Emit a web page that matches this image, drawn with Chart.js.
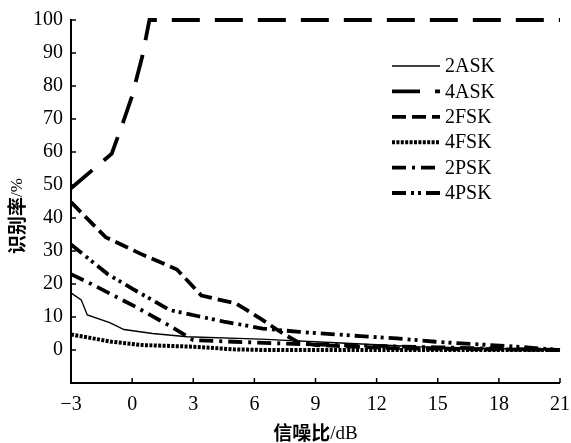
<!DOCTYPE html>
<html>
<head>
<meta charset="utf-8">
<script src="https://cdn.jsdelivr.net/npm/chart.js@4/dist/chart.umd.min.js"></script>
<style>
html,body{margin:0;padding:0;background:#fff;}
#wrap{width:571px;height:443px;position:relative;}
</style>
</head>
<body>
<div id="wrap"><canvas id="c" width="571" height="443"></canvas></div>
<script>
// ---- data ----
const seriesNames = ["2ASK", "4ASK", "2FSK", "4FSK", "2PSK", "4PSK"];
const xTicks = [-3, 0, 3, 6, 9, 12, 15, 18, 21];
const yTicks = [0, 10, 20, 30, 40, 50, 60, 70, 80, 90, 100];

const snr2ASK  = [-3, -2.5, -2.2, -1.1, -0.4, 1, 2.7, 6.3, 10, 14, 21];
const rate2ASK = [17.3, 15.2, 10.6, 8.3, 6.2, 5.0, 4.0, 3.3, 2.2, 1.0, 0];

const snr4ASK  = [-3, -1, -0.5, 0, 0.5, 0.85, 21];
const rate4ASK = [49, 59.5, 68, 77, 89, 100, 100];

const snr2FSK  = [-3, -1.3, 0.4, 2.2, 3.4, 5.1, 6.3, 7.4, 8.1, 9, 13, 21];
const rate2FSK = [44.8, 34.2, 29.2, 24.4, 16.5, 14.1, 9.5, 5.0, 2.5, 1.5, 0.5, 0];

const snr4FSK  = [-3, -1, 0.5, 3, 5, 6.5, 21];
const rate4FSK = [4.7, 2.5, 1.5, 1.0, 0.2, 0, 0];

const snr2PSK  = [-3, -2, 0.2, 1.85, 3, 5, 7.3, 10, 15, 21];
const rate2PSK = [23, 20, 13, 7.3, 3.0, 2.5, 2.0, 1.5, 0.8, 0];

const snr4PSK  = [-3, -1.2, 0, 1.85, 3.2, 4.5, 6.4, 8.2, 11.2, 13, 14.9, 16.7, 18.5, 21];
const rate4PSK = [32, 23, 18.6, 12.1, 10.3, 8.6, 6.5, 5.5, 4.2, 3.5, 2.5, 1.8, 1.2, 0];

const xs = [snr2ASK, snr4ASK, snr2FSK, snr4FSK, snr2PSK, snr4PSK];
const ys = [rate2ASK, rate4ASK, rate2FSK, rate4FSK, rate2PSK, rate4PSK];

const styles = [
  {w: 1.4, dash: []},
  {w: 3.8, dash: [28, 15]},
  {w: 3.8, dash: [14, 6]},
  {w: 4, dash: [3, 1.4]},
  {w: 3.8, dash: [14, 6, 3, 6]},
  {w: 3.8, dash: [14, 5, 3, 4, 3, 5]}
];

const datasets = seriesNames.map((n, i) => ({
  label: n,
  data: xs[i].map((x, j) => ({x: x, y: ys[i][j]})),
  borderColor: '#000',
  backgroundColor: '#000',
  borderWidth: styles[i].w,
  borderDash: styles[i].dash,
  borderCapStyle: 'butt',
  pointRadius: 0,
  tension: 0,
  fill: false,
  clip: 6
}));

const SERIF = "'Liberation Serif', 'Times New Roman', serif";
const CJK = "'Noto Sans CJK SC', sans-serif";

const decor = {
  id: 'decor',
  afterDraw(chart) {
    const ctx = chart.ctx;
    const xs_ = chart.scales.x, ys_ = chart.scales.y;
    const area = chart.chartArea;
    ctx.save();
    // axes lines
    ctx.strokeStyle = '#000';
    ctx.lineWidth = 2;
    ctx.setLineDash([]);
    ctx.beginPath();
    ctx.moveTo(area.left, area.top - 1);
    ctx.lineTo(area.left, area.bottom);
    ctx.lineTo(area.right, area.bottom);
    ctx.stroke();
    // inward ticks
    ctx.lineWidth = 1.5;
    ctx.beginPath();
    yTicks.forEach(v => {
      const p = ys_.getPixelForValue(v);
      ctx.moveTo(area.left, p); ctx.lineTo(area.left + 5, p);
    });
    xTicks.forEach(v => {
      const p = xs_.getPixelForValue(v);
      ctx.moveTo(p, area.bottom); ctx.lineTo(p, area.bottom - 5);
    });
    ctx.stroke();
    // legend
    const lx0 = 392, lx1 = 440, ly0 = 66, dy = 25.4;
    chart.data.datasets.forEach((ds, i) => {
      const y = ly0 + i * dy;
      ctx.strokeStyle = '#000';
      ctx.lineWidth = ds.borderWidth;
      ctx.setLineDash(ds.borderDash);
      ctx.lineCap = 'butt';
      ctx.beginPath();
      ctx.moveTo(lx0, y); ctx.lineTo(lx1, y);
      ctx.stroke();
      ctx.setLineDash([]);
      ctx.fillStyle = '#000';
      ctx.font = '20px ' + SERIF;
      ctx.textAlign = 'left';
      ctx.textBaseline = 'middle';
      ctx.fillText(ds.label, 445, y + 1);
    });
    // x title
    ctx.textBaseline = 'alphabetic';
    const xt1 = '信噪比', xt2 = '/dB';
    ctx.font = 'bold 19px ' + CJK;
    const w1 = ctx.measureText(xt1).width;
    ctx.font = '19px ' + SERIF;
    const w2 = ctx.measureText(xt2).width;
    let sx = (area.left + area.right) / 2 - (w1 + w2) / 2;
    const by = 440;
    ctx.font = 'bold 19px ' + CJK;
    ctx.fillText(xt1, sx, by);
    ctx.font = '19px ' + SERIF;
    ctx.fillText(xt2, sx + w1, by - 1);
    // y title (rotated)
    ctx.save();
    ctx.translate(24, 216);
    ctx.rotate(-Math.PI / 2);
    const yt1 = '识别率', yt2 = '/%';
    ctx.font = 'bold 19px ' + CJK;
    const v1 = ctx.measureText(yt1).width;
    ctx.font = '17px ' + SERIF;
    const v2 = ctx.measureText(yt2).width;
    const s0 = -(v1 + v2) / 2;
    ctx.font = 'bold 19px ' + CJK;
    ctx.fillText(yt1, s0, 0);
    ctx.font = '17px ' + SERIF;
    ctx.fillText(yt2, s0 + v1, -2);
    ctx.restore();
    ctx.restore();
  }
};

new Chart(document.getElementById('c'), {
  type: 'line',
  data: {datasets: datasets},
  options: {
    responsive: false,
    animation: false,
    events: [],
    layout: {padding: {top: 20, right: 11, left: 0, bottom: 0}},
    plugins: {legend: {display: false}, tooltip: {enabled: false}, title: {display: false}},
    scales: {
      x: {
        type: 'linear', min: -3, max: 21,
        afterBuildTicks: s => { s.ticks = xTicks.map(v => ({value: v})); },
        afterFit: s => { s.height = 60; s.paddingLeft = 0; s.paddingRight = 0; },
        border: {display: false},
        grid: {display: false, drawTicks: false},
        ticks: {
          color: '#000', padding: 10, maxRotation: 0, autoSkip: false,
          font: {family: SERIF, size: 20},
          callback: v => String(v).replace('-', '\u2212')
        }
      },
      y: {
        type: 'linear', min: -10, max: 100,
        afterBuildTicks: s => { s.ticks = yTicks.map(v => ({value: v})); },
        afterFit: s => { s.width = 71; s.paddingTop = 0; s.paddingBottom = 0; },
        border: {display: false},
        grid: {display: false, drawTicks: false},
        ticks: {
          color: '#000', padding: 8, autoSkip: false,
          font: {family: SERIF, size: 20}
        }
      }
    }
  },
  plugins: [decor]
});
</script>
</body>
</html>
